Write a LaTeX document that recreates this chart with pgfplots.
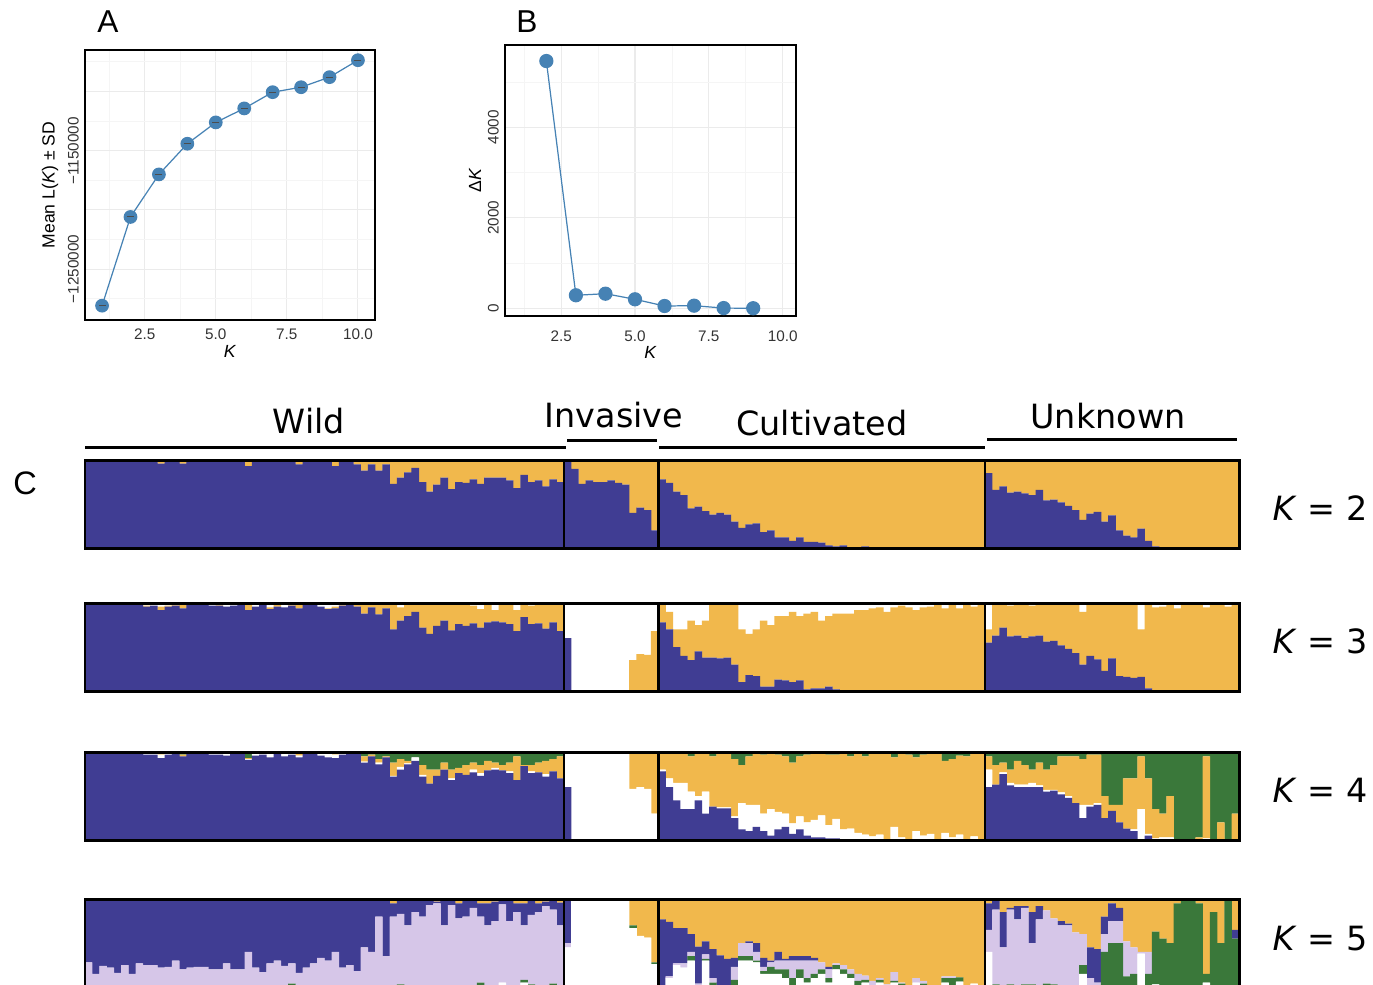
\documentclass[border=0pt]{standalone}
\usepackage{pgfplots}
\pgfplotsset{compat=1.18}
\usepackage{pgfplotstable}
\usepackage{fontspec}
\setmainfont{Liberation Sans}
\newfontfamily\dejavu{DejaVu Sans}

\definecolor{sblue}{HTML}{4682B4}
\definecolor{cblue}{HTML}{403D93}
\definecolor{corange}{HTML}{F1B84C}
\definecolor{cgreen}{HTML}{3A783A}
\definecolor{clav}{HTML}{D6C6E8}

% Evanno: mean ln L(K) +- sd
\pgfplotstableread{
k m sd
1 -1280800 300
2 -1205900 300
3 -1170000 300
4 -1144100 300
5 -1126100 300
6 -1114300 300
7 -1100600 300
8 -1096400 3800
9 -1087900 3500
10 -1073600 300
}\lnk

\pgfplotstableread{
k dk
2 5462
3 288
4 323
5 199
6 51
7 58
8 5
9 2
}\deltak

% membership per bar: x | K=2 blue | K=3 blue,white | K=4 blue,white,green | K=5 white,green,lav,blue
% remainder of each bar is the orange cluster
\pgfplotstableread{
x b2 b3 w3 b4 w4 g4 w5 g5 l5 b5
0 1 1 0 1 0 0 0 0 0.28 0.72
1 1 0.99 0.01 0.98 0.01 0.01 0 0 0.15 0.85
2 1 1 0 1 0 0 0 0 0.24 0.76
3 1 0.98 0.02 0.98 0.02 0 0 0 0.22 0.78
4 1 1 0 0.99 0 0.01 0 0 0.16 0.84
5 1 1 0 1 0 0 0 0 0.25 0.75
6 1 1 0 1 0 0 0 0 0.15 0.85
7 1 1 0 0.99 0.01 0 0 0 0.27 0.73
8 1 0.96 0.03 0.97 0.02 0.01 0 0 0.25 0.75
9 1 0.97 0.03 0.97 0.03 0 0 0 0.25 0.75
10 0.96 0.92 0.04 0.93 0.04 0 0 0 0.22 0.76
11 1 0.96 0.03 0.97 0.02 0 0 0 0.23 0.75
12 1 0.97 0.02 0.98 0.01 0 0 0 0.30 0.70
13 0.96 0.94 0 0.95 0 0.03 0 0 0.20 0.80
14 1 1 0 0.98 0.01 0.01 0 0 0.22 0.78
15 1 1 0 1 0 0 0 0 0.23 0.77
16 1 0.99 0.01 0.99 0.01 0 0 0 0.23 0.77
17 1 0.97 0.03 0.97 0.03 0 0 0 0.20 0.80
18 1 0.97 0.02 0.97 0.02 0 0 0 0.20 0.80
19 1 0.96 0.04 0.96 0.04 0 0 0 0.27 0.73
20 1 0.97 0.03 0.98 0.02 0 0 0 0.20 0.80
21 1 1 0 0.99 0.01 0 0 0 0.20 0.80
22 0.93 0.92 0.02 0.91 0.01 0.07 0 0 0.40 0.60
23 1 0.96 0.04 0.96 0.04 0 0 0 0.22 0.78
24 1 0.98 0.02 0.97 0.02 0.01 0 0 0.17 0.83
25 0.98 0.93 0.05 0.94 0.05 0 0 0 0.27 0.73
26 1 0.96 0.02 0.98 0.02 0 0 0 0.30 0.70
27 1 0.95 0.05 0.95 0.05 0 0 0 0.24 0.76
28 1 0.97 0.02 0.97 0.02 0.01 0 0.04 0.23 0.73
29 0.95 0.94 0.02 0.94 0.02 0.02 0 0 0.16 0.84
30 1 1 0 0.99 0.01 0 0 0 0.22 0.77
31 1 0.99 0.01 0.98 0.01 0 0 0 0.27 0.73
32 0.98 0.96 0.04 0.96 0.04 0 0 0 0.33 0.67
33 1 0.93 0.06 0.94 0.05 0 0 0 0.30 0.70
34 0.93 0.94 0.04 0.93 0.04 0 0 0 0.40 0.60
35 1 0.97 0.02 0.97 0.02 0 0 0 0.22 0.78
36 1 0.98 0.02 0.98 0.02 0 0 0 0.25 0.75
37 0.95 0.96 0 0.98 0.01 0.01 0 0 0.18 0.82
38 0.88 0.88 0 0.88 0.01 0.05 0 0 0.45 0.55
39 0.95 0.95 0 0.95 0 0.03 0 0 0.40 0.60
40 0.88 0.87 0 0.86 0.02 0.08 0 0 0.80 0.20
41 0.95 0.94 0.01 0.94 0 0.05 0 0 0.35 0.65
42 0.73 0.70 0 0.72 0.01 0.12 0 0 0.80 0.15
43 0.80 0.80 0.05 0.80 0.03 0.08 0 0.03 0.80 0.17
44 0.86 0.85 0 0.86 0.01 0.10 0 0 0.70 0.28
45 0.91 0.90 0 0.90 0.04 0.06 0 0 0.85 0.15
46 0.75 0.72 0 0.72 0.02 0.15 0 0 0.80 0.20
47 0.64 0.65 0.02 0.64 0 0.20 0 0 0.93 0.07
48 0.72 0.74 0 0.73 0 0.20 0 0 0.95 0.02
49 0.80 0.80 0 0.80 0 0.12 0 0 0.70 0.30
50 0.67 0.69 0 0.68 0.02 0.20 0 0 0.93 0.05
51 0.75 0.76 0 0.76 0 0.18 0 0 0.78 0.17
52 0.74 0.74 0 0.74 0 0.15 0 0 0.80 0.20
53 0.78 0.77 0.03 0.77 0.03 0.12 0 0 0.90 0.10
54 0.73 0.72 0.07 0.73 0.03 0.15 0 0.05 0.75 0.15
55 0.80 0.78 0 0.79 0 0.10 0 0 0.70 0.25
56 0.80 0.79 0.08 0.80 0.02 0.12 0 0 0.75 0.22
57 0.80 0.78 0 0.79 0 0.15 0.05 0 0.89 0.06
58 0.77 0.76 0 0.76 0.02 0.12 0 0 0.75 0.25
59 0.68 0.68 0.08 0.68 0 0.05 0 0 0.85 0.10
60 0.83 0.84 0 0.84 0 0.15 0.05 0.03 0.62 0.25
61 0.75 0.76 0.03 0.76 0.02 0.15 0 0.03 0.79 0.16
62 0.77 0.77 0 0.77 0 0.12 0 0 0.85 0.10
63 0.70 0.71 0 0.72 0.03 0.10 0 0 0.92 0.05
64 0.78 0.78 0 0.78 0 0.08 0 0.04 0.84 0.10
65 0.75 0.68 0 0.70 0 0.05 0 0 0.70 0.26
66 1 0.60 0.40 0.60 0.40 0 0.45 0 0.05 0.50
67 0.90 0 1 0 1 0 1 0 0 0
68 0.73 0 1 0 1 0 1 0 0 0
69 0.77 0 1 0 1 0 1 0 0 0
70 0.75 0 1 0 1 0 1 0 0 0
71 0.75 0 1 0 1 0 1 0 0 0
72 0.77 0 1 0 1 0 1 0 0 0
73 0.74 0 1 0 1 0 1 0 0 0
74 0.72 0 1 0 1 0 1 0 0 0
75 0.40 0 0.65 0 0.58 0.02 0.67 0.03 0 0
76 0.46 0 0.58 0 0.60 0 0.58 0 0 0
77 0.43 0 0.59 0 0.58 0 0.56 0 0 0
78 0.20 0 0.32 0 0.30 0 0.26 0.02 0 0
79 0.78 0.78 0.02 0.78 0.02 0 0 0 0.02 0.75
80 0.74 0.70 0.10 0.60 0.10 0 0.10 0 0.02 0.62
81 0.64 0.50 0.30 0.45 0.20 0 0.25 0 0.02 0.40
82 0.60 0.40 0.30 0.35 0.30 0 0.22 0 0.05 0.40
83 0.45 0.35 0.20 0.35 0.20 0.05 0.30 0.05 0.05 0.20
84 0.47 0.45 0.25 0.45 0.05 0 0 0.02 0.02 0.42
85 0.42 0.38 0.20 0.30 0.25 0 0.30 0.02 0.05 0.15
86 0.38 0.38 0.02 0.38 0 0.05 0.02 0.03 0.05 0.33
87 0.40 0.37 0 0.36 0.01 0 0 0 0.02 0.34
88 0.38 0.38 0 0.36 0.01 0 0 0 0 0.32
89 0.30 0.30 0.02 0.25 0.02 0.08 0 0.08 0.15 0.10
90 0.23 0.10 0.30 0.12 0.30 0.15 0.30 0.05 0.15 0
91 0.27 0.18 0.35 0.10 0.30 0.05 0.30 0.05 0.15 0.02
92 0.28 0.17 0.30 0.15 0.25 0.02 0.28 0.02 0.10 0.10
93 0.18 0.05 0.20 0.10 0.20 0.03 0.15 0.03 0.05 0.10
94 0.20 0.05 0.25 0.05 0.30 0.02 0.15 0.08 0.05 0.02
95 0.12 0.13 0.15 0.12 0.20 0.03 0.15 0.05 0.10 0.10
96 0.12 0.12 0.15 0.15 0.15 0.05 0.10 0.10 0.10 0.02
97 0.08 0.10 0.10 0.07 0.12 0.12 0.02 0.08 0.20 0.05
98 0.12 0.12 0.15 0.12 0.15 0.05 0.10 0.10 0.10 0.05
99 0.07 0.02 0.12 0.05 0.15 0.03 0.05 0.05 0.20 0.05
100 0.07 0.03 0.10 0.03 0.20 0.02 0.10 0.05 0.15 0.03
101 0.06 0.03 0.20 0.03 0.25 0.02 0.15 0.05 0.08 0
102 0.03 0.05 0.15 0.02 0.15 0.03 0.05 0.05 0.10 0.03
103 0.02 0.02 0.12 0.02 0.22 0.03 0.20 0.05 0.02 0
104 0.03 0 0.12 0 0.12 0.02 0.15 0.05 0.05 0
105 0.01 0 0.12 0 0.13 0.05 0.10 0.05 0.05 0
106 0.01 0 0.08 0 0.08 0.02 0.02 0.05 0.08 0
107 0.02 0 0.08 0 0.06 0.05 0.05 0.03 0.05 0
108 0.01 0 0.06 0 0.04 0.02 0 0.02 0.05 0
109 0.01 0 0.05 0 0.06 0.02 0.05 0.03 0.02 0
110 0.005 0 0.10 0 0.01 0.02 0.02 0 0.01 0
111 0 0 0.05 0 0.15 0.06 0.05 0.02 0.10 0
112 0 0 0.03 0 0.03 0.02 0.02 0.02 0.01 0
113 0 0 0.05 0 0 0.03 0 0 0 0
114 0 0 0.08 0 0.10 0.06 0.05 0 0.05 0
115 0 0 0.05 0 0.05 0.03 0.02 0.02 0.03 0
116 0 0 0.04 0 0.07 0.02 0 0 0 0
117 0 0 0.02 0 0 0.02 0 0 0 0
118 0 0 0.06 0 0.08 0.10 0.05 0.05 0.02 0
119 0 0 0.01 0 0.03 0.08 0.02 0.08 0.02 0
120 0 0 0.06 0 0.06 0.04 0.06 0.05 0 0
121 0 0 0.02 0 0.01 0.05 0.01 0 0 0
122 0 0 0.04 0 0.04 0.02 0.04 0 0 0
123 0 0 0 0 0 0.01 0 0 0 0
124 0.85 0.55 0.30 0.60 0.20 0.05 0.40 0 0.25 0.30
125 0.66 0.63 0 0.63 0 0.15 0 0.03 0.85 0.10
126 0.70 0.72 0 0.75 0.02 0.12 0 0 0.45 0.40
127 0.63 0.62 0.03 0.62 0.03 0.20 0 0.03 0.85 0.02
128 0.64 0.63 0 0.60 0.03 0.10 0 0.02 0.75 0.15
129 0.62 0.60 0 0.60 0.03 0.15 0 0.03 0.87 0.02
130 0.60 0.62 0.03 0.60 0.05 0.20 0 0.03 0.47 0.35
131 0.66 0.63 0 0.60 0.02 0.12 0 0.02 0.75 0.15
132 0.54 0.56 0.02 0.55 0.02 0.20 0 0.04 0.83 0
133 0.55 0.57 0 0.56 0.01 0.15 0 0.03 0.75 0
134 0.52 0.52 0 0.52 0.02 0.05 0 0.02 0.68 0.05
135 0.48 0.48 0 0.48 0.02 0.05 0 0 0.70 0.02
136 0.43 0.43 0 0.42 0 0.05 0 0 0.62 0
137 0.32 0.30 0.10 0.25 0.15 0.08 0.15 0.10 0.35 0
138 0.39 0.40 0 0.38 0.02 0.03 0 0 0.10 0.35
139 0.41 0.36 0 0.40 0.02 0.03 0 0 0.05 0.38
140 0.30 0.23 0 0.25 0 0.50 0 0.40 0.20 0.20
141 0.37 0.37 0 0.33 0 0.60 0 0.50 0.25 0.20
142 0.20 0.17 0 0.20 0 0.60 0 0.50 0.25 0.15
143 0.14 0.16 0 0.13 0 0.30 0 0.12 0.40 0
144 0.12 0.15 0 0.10 0.02 0.30 0 0.15 0.30 0
145 0.22 0.16 0.30 0 0.35 0.05 0.38 0 0.02 0
146 0.08 0.03 0 0.05 0.02 0.30 0 0.15 0.25 0
147 0.02 0.01 0.05 0 0.02 0.65 0.03 0.60 0 0
148 0.01 0.01 0.04 0 0.03 0.70 0 0.55 0 0
149 0 0 0 0 0.03 0.50 0 0.50 0 0
150 0 0 0.06 0 0 1 0 0.95 0 0
151 0 0 0 0 0 1 0 1 0 0
152 0 0 0 0 0 1 0 1 0 0
153 0.01 0 0 0 0 0.97 0 0.95 0 0
154 0 0 0.05 0 0.02 0.05 0.05 0.10 0 0
155 0 0 0 0 0 1 0 0.85 0 0
156 0 0 0 0 0 0.80 0 0.50 0 0
157 0 0 0.04 0 0 1 0 1 0 0
158 0 0 0 0 0 0.70 0 0.55 0 0.10
}\str

\pgfplotsset{
  evanno/.style={
    anchor=south west, scale only axis,
    grid=both,
    major grid style={draw=black!8, line width=0.6pt},
    minor grid style={draw=black!4, line width=0.45pt},
    major tick length=0pt, minor tick length=0pt,
    axis line style={line width=1.6pt},
    scaled ticks=false,
    tick label style={font=\fontsize{8.7}{10}\selectfont, text=black!80},
    xtick={2.5,5,7.5,10}, xticklabels={2.5,5.0,7.5,10.0},
    minor xtick={1.25,3.75,6.25,8.75},
    yticklabel style={rotate=90, anchor=south},
    label style={font=\fontsize{10}{12}\selectfont},
    xlabel={\textit{K}},
  },
  strbar/.style={
    anchor=south west, scale only axis,
    width=230.8mm, height=17.6mm,
    xmin=-0.5, xmax=158.5, ymin=0, ymax=1,
    ybar stacked, bar width=1.04,
    axis on top, xtick=\empty, ytick=\empty,
    extra x ticks={65.5,78.5,123.5}, extra x tick labels={},
    extra x tick style={grid=major, major tick length=0pt,
      major grid style={draw=black, line width=1.3pt}},
    axis line style={line width=1.7pt},
    every axis plot/.append style={draw=none},
  },
}

\begin{document}
\begin{tikzpicture}

% ---- A
\begin{axis}[evanno, at={(17mm,-64mm)}, width=58mm, height=54mm,
  xmin=0.4, xmax=10.6, ymin=-1292900, ymax=-1065000,
  ytick={-1250000,-1200000,-1150000,-1100000},
  yticklabels={−1250000,,−1150000,},
  minor ytick={-1275000,-1225000,-1175000,-1125000,-1075000},
  ylabel={Mean L(\textit{K}) ± SD},
  xticklabel style={yshift=-0.6mm},
  xlabel style={at={(axis description cs:0.5,-0.118)}, anchor=center},
  ylabel style={at={(axis description cs:-0.12,0.5)}, anchor=center},
]
\addplot[sblue, line width=0.7pt, mark=*, mark size=1.25mm,
  mark options={fill=sblue, draw=sblue}] table[x=k, y=m]{\lnk};
% sd whiskers and caps
\addplot[draw=none, mark=-, mark size=0.7mm,
  mark options={draw=black!70, line width=0.55pt},
  error bars/.cd, y dir=both, y explicit, error mark=none,
  error bar style={draw=black!70, line width=0.55pt}]
  table[x=k, y=m, y error=sd]{\lnk};
\end{axis}

% ---- B
\begin{axis}[evanno, at={(101mm,-63.2mm)}, width=58.2mm, height=54.2mm,
  xmin=0.6, xmax=10.45, ymin=-170, ymax=5816,
  ytick={0,2000,4000}, yticklabels={0,2000,4000},
  minor ytick={1000,3000,5000},
  ylabel={Δ\textit{K}},
  xticklabel style={yshift=-1.7mm},
  xlabel style={at={(axis description cs:0.5,-0.133)}, anchor=center},
  ylabel style={at={(axis description cs:-0.103,0.5)}, anchor=center},
]
\addplot[sblue, line width=0.7pt, mark=*, mark size=1.3mm,
  mark options={fill=sblue, draw=sblue}] table[x=k, y=dk]{\deltak};
\end{axis}

% ---- C: K = 2
\begin{axis}[strbar, at={(17mm,-109.6mm)}]
\addplot[fill=cblue] table[x=x, y=b2]{\str};
\addplot[fill=corange] table[x=x, y expr=1-\thisrow{b2}]{\str};
\end{axis}

% K = 3
\begin{axis}[strbar, at={(17mm,-138.2mm)}]
\addplot[fill=cblue] table[x=x, y=b3]{\str};
\addplot[fill=corange] table[x=x, y expr=1-\thisrow{b3}-\thisrow{w3}]{\str};
\addplot[fill=white] table[x=x, y=w3]{\str};
\end{axis}

% K = 4
\begin{axis}[strbar, at={(17mm,-168mm)}]
\addplot[fill=cblue] table[x=x, y=b4]{\str};
\addplot[fill=white] table[x=x, y=w4]{\str};
\addplot[fill=corange] table[x=x, y expr=1-\thisrow{b4}-\thisrow{w4}-\thisrow{g4}]{\str};
\addplot[fill=cgreen] table[x=x, y=g4]{\str};
\end{axis}

% K = 5
\begin{axis}[strbar, at={(17mm,-197.4mm)}]
\addplot[fill=white] table[x=x, y=w5]{\str};
\addplot[fill=cgreen] table[x=x, y=g5]{\str};
\addplot[fill=clav] table[x=x, y=l5]{\str};
\addplot[fill=cblue] table[x=x, y=b5]{\str};
\addplot[fill=corange] table[x=x, y expr=1-\thisrow{w5}-\thisrow{g5}-\thisrow{l5}-\thisrow{b5}]{\str};
\end{axis}

% panel letters
\node[font=\fontsize{18}{20}\selectfont] at (21.6mm,-4.4mm) {A};
\node[font=\fontsize{18}{20}\selectfont] at (105.4mm,-4.4mm) {B};
\node[font=\fontsize{18.5}{20}\selectfont] at (5mm,-96.6mm) {C};

% group headers
\begin{scope}[font=\dejavu\fontsize{19}{22}\selectfont]
\node[anchor=base] at (61.8mm,-86.6mm) {Wild};
\node[anchor=base] at (122.8mm,-85.4mm) {Invasive};
\node[anchor=base] at (164.4mm,-87mm) {Cultivated};
\node[anchor=base] at (221.6mm,-85.6mm) {Unknown};
\end{scope}
\draw[line width=0.6mm] (17mm,-89.4mm) -- (113.2mm,-89.4mm);
\draw[line width=0.6mm] (113.4mm,-88mm) -- (131.4mm,-88mm);
\draw[line width=0.6mm] (131.8mm,-89.4mm) -- (197mm,-89.4mm);
\draw[line width=0.6mm] (197.4mm,-87.8mm) -- (247.4mm,-87.8mm);

% K labels
\begin{scope}[font=\dejavu\fontsize{19}{22}\selectfont]
\node[anchor=base west] at (253.3mm,-104mm) {\textit{K} = 2};
\node[anchor=base west] at (253.3mm,-130.7mm) {\textit{K} = 3};
\node[anchor=base west] at (253.3mm,-160.5mm) {\textit{K} = 4};
\node[anchor=base west] at (253.3mm,-190.1mm) {\textit{K} = 5};
\end{scope}

\pgfresetboundingbox
\path[use as bounding box] (0,0) rectangle (274.6mm,-196.8mm);
\end{tikzpicture}
\end{document}
